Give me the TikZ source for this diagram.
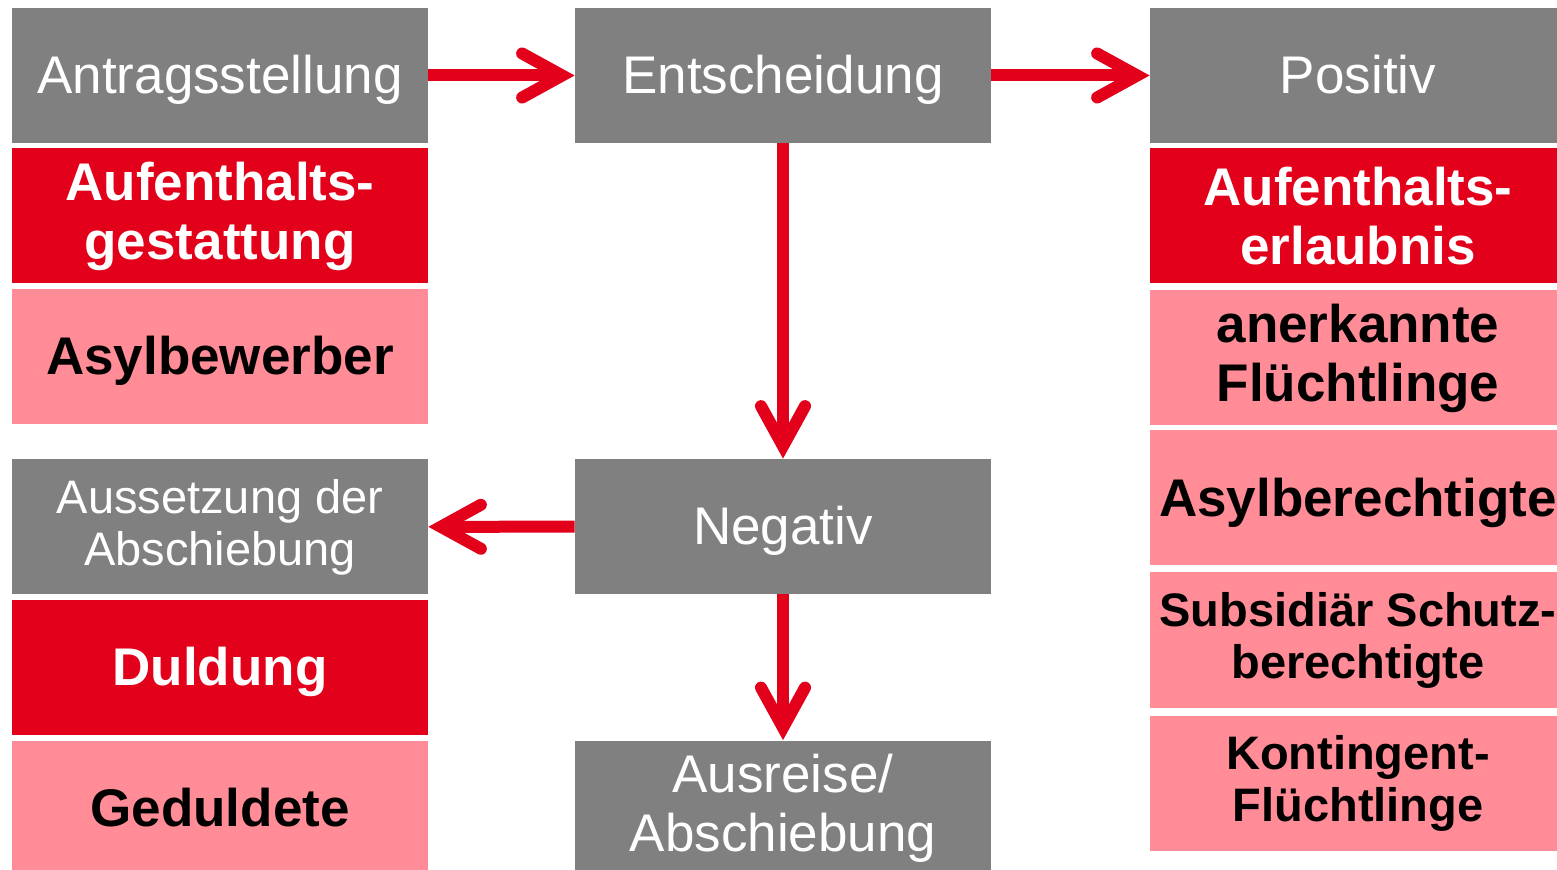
\documentclass[tikz,border=0pt]{standalone}
\usepackage{fontspec}
\setmainfont{Liberation Sans}
\usetikzlibrary{arrows.meta}
\definecolor{Slate}{HTML}{808080}
\definecolor{Signal}{HTML}{E2001A}
\definecolor{Blush}{HTML}{FF8C96}
\newcommand{\bigtext}{\fontsize{26.5}{29.5}\selectfont}
\newcommand{\midtext}{\fontsize{23.5}{26}\selectfont}
\tikzset{
  card/.style={minimum width=208pt,minimum height=67.5pt,inner sep=0pt,align=center},
  oneline/.style={text height=24pt,text depth=5.6pt},
  graycard/.style={card,fill=Slate,text=white,font=\bigtext},
  redcard/.style={card,fill=Signal,text=white,font=\bigtext\bfseries},
  pinkcard/.style={card,fill=Blush,text=black,font=\bigtext\bfseries},
  flow/.style={draw=Signal,line width=6pt,
    -{Straight Barb[length=20pt,width=22pt,line cap=round,line join=miter]}}
}

\begin{document}
\begin{tikzpicture}[x=0.5pt,y=-0.5pt]
  \useasboundingbox (0,0) rectangle (1557,870);
  % Antrag
  \node[graycard,oneline] (antrag) at (220,75.5) {Antragsstellung};
  \node[redcard] (gestattung) at (220,216) {Aufenthalts-\\gestattung};
  \node[pinkcard,oneline] (bewerber) at (220,356.5) {Asylbewerber};
  % Duldung
  \node[graycard,font=\midtext] (aussetzung) at (220,527) {Aussetzung der\\Abschiebung};
  \node[redcard,oneline] (duldung) at (220,667.5) {Duldung};
  \node[pinkcard,oneline] (geduldete) at (220,808.5) {Geduldete};
  % Mitte
  \node[graycard,oneline] (entscheidung) at (783,75.5) {Entscheidung};
  \node[graycard,oneline] (negativ) at (783,526.5) {Negativ};
  \node[graycard] (ausreise) at (783,808) {Ausreise/\\Abschiebung};
  % Positiv
  \node[graycard,oneline] (positiv) at (1358,75.5) {Positiv};
  \node[redcard] (erlaubnis) at (1358,216) {Aufenthalts-\\erlaubnis};
  \node[pinkcard] (anerkannt) at (1358,358) {anerkannte\\Flüchtlinge};
  \node[pinkcard,oneline] (berechtigt) at (1358,498) {Asylberechtigte};
  \node[pinkcard,font=\midtext\bfseries] (subsidiaer) at (1358,640) {Subsidiär Schutz-\\berechtigte};
  \node[pinkcard,font=\midtext\bfseries] (kontingent) at (1358,783.5) {Kontingent-\\Flüchtlinge};

  \draw[flow] (antrag) -- (entscheidung);
  \draw[flow] (entscheidung) -- (positiv);
  \draw[flow] (entscheidung) -- (negativ);
  \draw[flow] (negativ) -- (aussetzung);
  \draw[flow] (negativ) -- (ausreise);
\end{tikzpicture}
\end{document}
